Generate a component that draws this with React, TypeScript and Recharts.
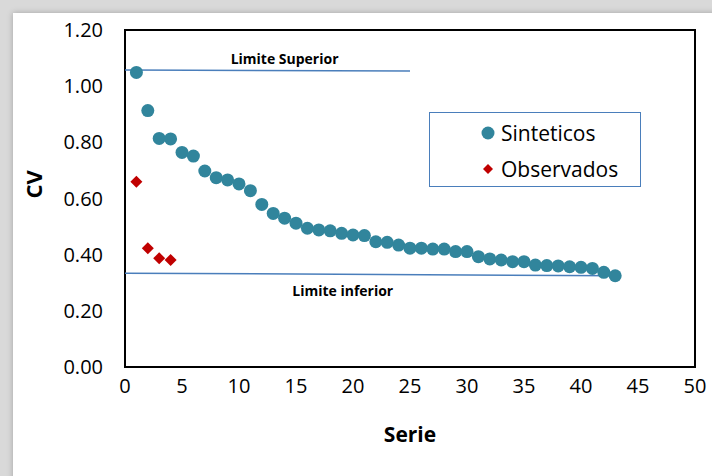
import { ScatterChart, Scatter, XAxis, YAxis, ReferenceLine, ReferenceArea, ReferenceDot, Legend } from 'recharts';

const serieX = [1, 2, 3, 4, 5, 6, 7, 8, 9, 10, 11, 12, 13, 14, 15, 16, 17, 18, 19, 20, 21, 22, 23, 24, 25, 26, 27, 28, 29, 30, 31, 32, 33, 34, 35, 36, 37, 38, 39, 40, 41, 42, 43];
const sinteticos = [
  1.049, 0.913, 0.814, 0.812, 0.764, 0.751, 0.698, 0.674, 0.666, 0.652, 0.628, 0.579, 0.547, 0.53, 0.512,
  0.494, 0.488, 0.485, 0.476, 0.47, 0.468, 0.446, 0.444, 0.434, 0.423, 0.423, 0.42, 0.42, 0.411, 0.411,
  0.393, 0.385, 0.381, 0.375, 0.375, 0.363, 0.361, 0.36, 0.357, 0.355, 0.351, 0.337, 0.325,
];
const observadosX = [1, 2, 3, 4];
const observados = [0.66, 0.423, 0.387, 0.381];

const limiteSuperior = [{ x: 0, y: 1.058 }, { x: 25, y: 1.054 }];
const limiteInferior = [{ x: 0, y: 0.334 }, { x: 43.3, y: 0.325 }];

const xTicks = [0, 5, 10, 15, 20, 25, 30, 35, 40, 45, 50];
const yTicks = [0, 0.2, 0.4, 0.6, 0.8, 1.0, 1.2];

const sintData = serieX.map((x, i) => ({ x, y: sinteticos[i] }));
const obsData = observadosX.map((x, i) => ({ x, y: observados[i] }));

const TEAL = '#31859c';
const RED = '#c00000';
const BLUE = '#4a7ebb';
const FONT = '"Open Sans", sans-serif';

const Circle = (props: any) => <circle cx={props.cx} cy={props.cy} r={6.5} fill={TEAL} />;
const Diamond = (props: any) => {
  const { cx, cy } = props;
  const d = 6;
  return <polygon points={`${cx},${cy - d} ${cx + d},${cy} ${cx},${cy + d} ${cx - d},${cy}`} fill={RED} />;
};

const LegendBox = () => (
  <div style={{ fontFamily: FONT, fontSize: 21, color: '#000' }}>
    <div style={{ position: 'absolute', left: 51, top: 6, display: 'flex', alignItems: 'center' }}>
      <svg width={16} height={22}>
        <circle cx={7} cy={11} r={6.5} fill={TEAL} />
      </svg>
      <span style={{ marginLeft: 4 }}>Sinteticos</span>
    </div>
    <div style={{ position: 'absolute', left: 51, top: 42, display: 'flex', alignItems: 'center' }}>
      <svg width={16} height={22}>
        <polygon points="7,6 12,11 7,16 2,11" fill={RED} />
      </svg>
      <span style={{ marginLeft: 4 }}>Observados</span>
    </div>
  </div>
);

export default function App() {
  return (
    <div style={{ position: 'absolute', left: 0, top: 0, width: 712, height: 476, overflow: 'hidden', background: '#d9d9d9' }}>
      <div style={{ position: 'absolute', left: 13, top: 13, width: 720, height: 480, background: '#fff', boxShadow: '0 0 6px rgba(0,0,0,0.25)' }} />
      <div style={{ position: 'absolute', left: 0, top: 0 }}>
        <ScatterChart width={712} height={476} margin={{ top: 30, right: 17, bottom: 79, left: 65 }}>
          <XAxis
            type="number"
            dataKey="x"
            domain={[0, 50]}
            ticks={xTicks}
            axisLine={false}
            tickLine={false}
            tickSize={0}
            tickMargin={12}
            height={30}
            tick={{ fill: '#000', fontSize: 20, fontFamily: FONT }}
            label={{ value: 'Serie', position: 'insideBottom', offset: -45, fill: '#000', fontSize: 21, fontWeight: 'bold', fontFamily: FONT }}
          />
          <YAxis
            type="number"
            dataKey="y"
            domain={[0, 1.2]}
            ticks={yTicks}
            axisLine={false}
            tickLine={false}
            tickSize={0}
            tickMargin={22}
            width={60}
            tickFormatter={(v: number) => v.toFixed(2)}
            tick={{ fill: '#000', fontSize: 20, fontFamily: FONT }}
            label={{ value: 'CV', angle: -90, position: 'insideLeft', offset: -31, fill: '#000', fontSize: 22, fontWeight: 'bold', fontFamily: FONT }}
          />
          <ReferenceArea x1={0} x2={50} y1={0} y2={1.2} fill="none" stroke="#000" strokeWidth={2} />
          <ReferenceLine segment={limiteSuperior} stroke={BLUE} strokeWidth={1.5} />
          <ReferenceLine segment={limiteInferior} stroke={BLUE} strokeWidth={1.5} />
          <ReferenceDot
            x={14}
            y={1.097}
            r={0}
            stroke="none"
            label={{ value: 'Limite Superior', position: 'center', fill: '#000', fontSize: 14, fontWeight: 'bold', fontFamily: FONT }}
          />
          <ReferenceDot
            x={19.1}
            y={0.271}
            r={0}
            stroke="none"
            label={{ value: 'Limite inferior', position: 'center', fill: '#000', fontSize: 14, fontWeight: 'bold', fontFamily: FONT }}
          />
          <Scatter name="Sinteticos" data={sintData} shape={Circle} isAnimationActive={false} />
          <Scatter name="Observados" data={obsData} shape={Diamond} isAnimationActive={false} />
          <Legend
            layout="horizontal"
            verticalAlign="middle"
            align="center"
            content={<LegendBox />}
            wrapperStyle={{ position: 'absolute', left: 429, top: 112, right: 'auto', bottom: 'auto', width: 212, height: 75, border: `1.5px solid ${BLUE}`, background: '#fff', boxSizing: 'border-box' }}
          />
        </ScatterChart>
      </div>
    </div>
  );
}
